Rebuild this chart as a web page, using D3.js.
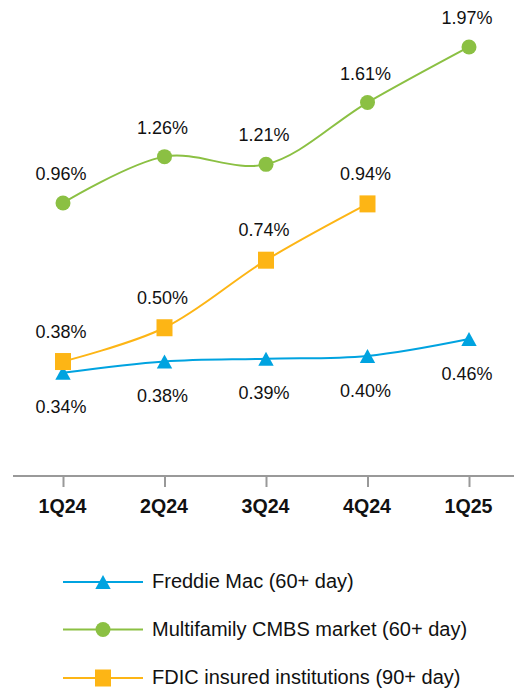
<!DOCTYPE html>
<html><head><meta charset="utf-8">
<script src="https://cdn.jsdelivr.net/npm/d3@7"></script>
<style>
html,body{margin:0;padding:0;background:#fff;}
svg{display:block;font-family:"Liberation Sans",Arial,sans-serif;}
</style></head>
<body><svg id="c" width="514" height="693"></svg>
<script>
const categories = ["1Q24","2Q24","3Q24","4Q24","1Q25"];
const freddie = [0.34,0.38,0.39,0.40,0.46];
const cmbs = [0.96,1.26,1.21,1.61,1.97];
const fdic = [0.38,0.50,0.74,0.94,null];
const seriesNames = ["Freddie Mac (60+ day)","Multifamily CMBS market (60+ day)","FDIC insured institutions (90+ day)"];

const svg = d3.select("#c");
const x = d3.scalePoint().domain(categories).range([63,469]);
const yL = d3.scaleLinear().domain([0,1]).range([468.5,187]);
const yR = d3.scaleLinear().domain([0,2]).range([351.3,42.3]);

const colors = {freddie:"#00A3E0", cmbs:"#8BC043", fdic:"#FDB515"};

// axis
svg.append("line").attr("x1",13).attr("x2",514).attr("y1",476).attr("y2",476)
  .attr("stroke","#999").attr("stroke-width",2);
const ax = svg.append("g").attr("transform","translate(0,476)")
  .call(d3.axisBottom(x).tickSize(11).tickPadding(11).tickSizeOuter(0));
ax.select(".domain").remove();
ax.selectAll(".tick line").attr("stroke","#999").attr("stroke-width",2);
ax.selectAll(".tick text").attr("font-size",21).attr("font-weight","bold")
  .attr("fill","#111").attr("font-family","'Liberation Sans',Arial,sans-serif")
  .attr("x",-1).attr("textLength",48).attr("lengthAdjust","spacingAndGlyphs");

const series = [
  {key:"freddie", vals:freddie, y:yL, marker:"triangle", labelDy:40.7},
  {key:"cmbs", vals:cmbs, y:yR, marker:"circle", labelDy:-23},
  {key:"fdic", vals:fdic, y:yL, marker:"square", labelDy:-24}
];

function drawMarker(g, type, cx, cy, color){
  if(type==="circle") g.append("circle").attr("cx",cx).attr("cy",cy).attr("r",7.5).attr("fill",color);
  else if(type==="square") g.append("rect").attr("x",cx-8).attr("y",cy-8.5).attr("width",16).attr("height",17).attr("fill",color);
  else g.append("path").attr("d",`M${cx},${cy-7}L${cx+7.7},${cy+7}L${cx-7.7},${cy+7}Z`).attr("fill",color);
}

series.forEach(s=>{
  const pts = categories.map((c,i)=>({c, v:s.vals[i]})).filter(d=>d.v!=null);
  const line = d3.line().x(d=>x(d.c)).y(d=>s.y(d.v)).curve(d3.curveCatmullRom.alpha(0.5));
  svg.append("path").attr("d",line(pts)).attr("fill","none")
    .attr("stroke",colors[s.key]).attr("stroke-width",2);
});
series.forEach(s=>{
  const pts = categories.map((c,i)=>({c, v:s.vals[i]})).filter(d=>d.v!=null);
  const g = svg.append("g");
  pts.forEach(d=>drawMarker(g, s.marker, x(d.c), s.y(d.v), colors[s.key]));
  pts.forEach(d=>{
    svg.append("text").attr("x",x(d.c)-2).attr("y",s.y(d.v)+s.labelDy)
      .attr("text-anchor","middle").attr("font-size",18.5).attr("fill","#111")
      .attr("textLength",51).attr("lengthAdjust","spacingAndGlyphs")
      .text(d.v.toFixed(2)+"%");
  });
});

// legend
const legRows = [582,629.5,678];
const legKeys = ["freddie","cmbs","fdic"];
const legMarkers = ["triangle","circle","square"];
legKeys.forEach((k,i)=>{
  const yy = legRows[i];
  const g = svg.append("g");
  g.append("line").attr("x1",63).attr("x2",143).attr("y1",yy).attr("y2",yy)
    .attr("stroke",colors[k]).attr("stroke-width",2);
  drawMarker(g, legMarkers[i], 103, yy, colors[k]);
  g.append("text").attr("x",152).attr("y",yy).attr("dy","0.3em")
    .attr("font-size",20).attr("fill","#111").text(seriesNames[i]);
});
</script></body></html>
